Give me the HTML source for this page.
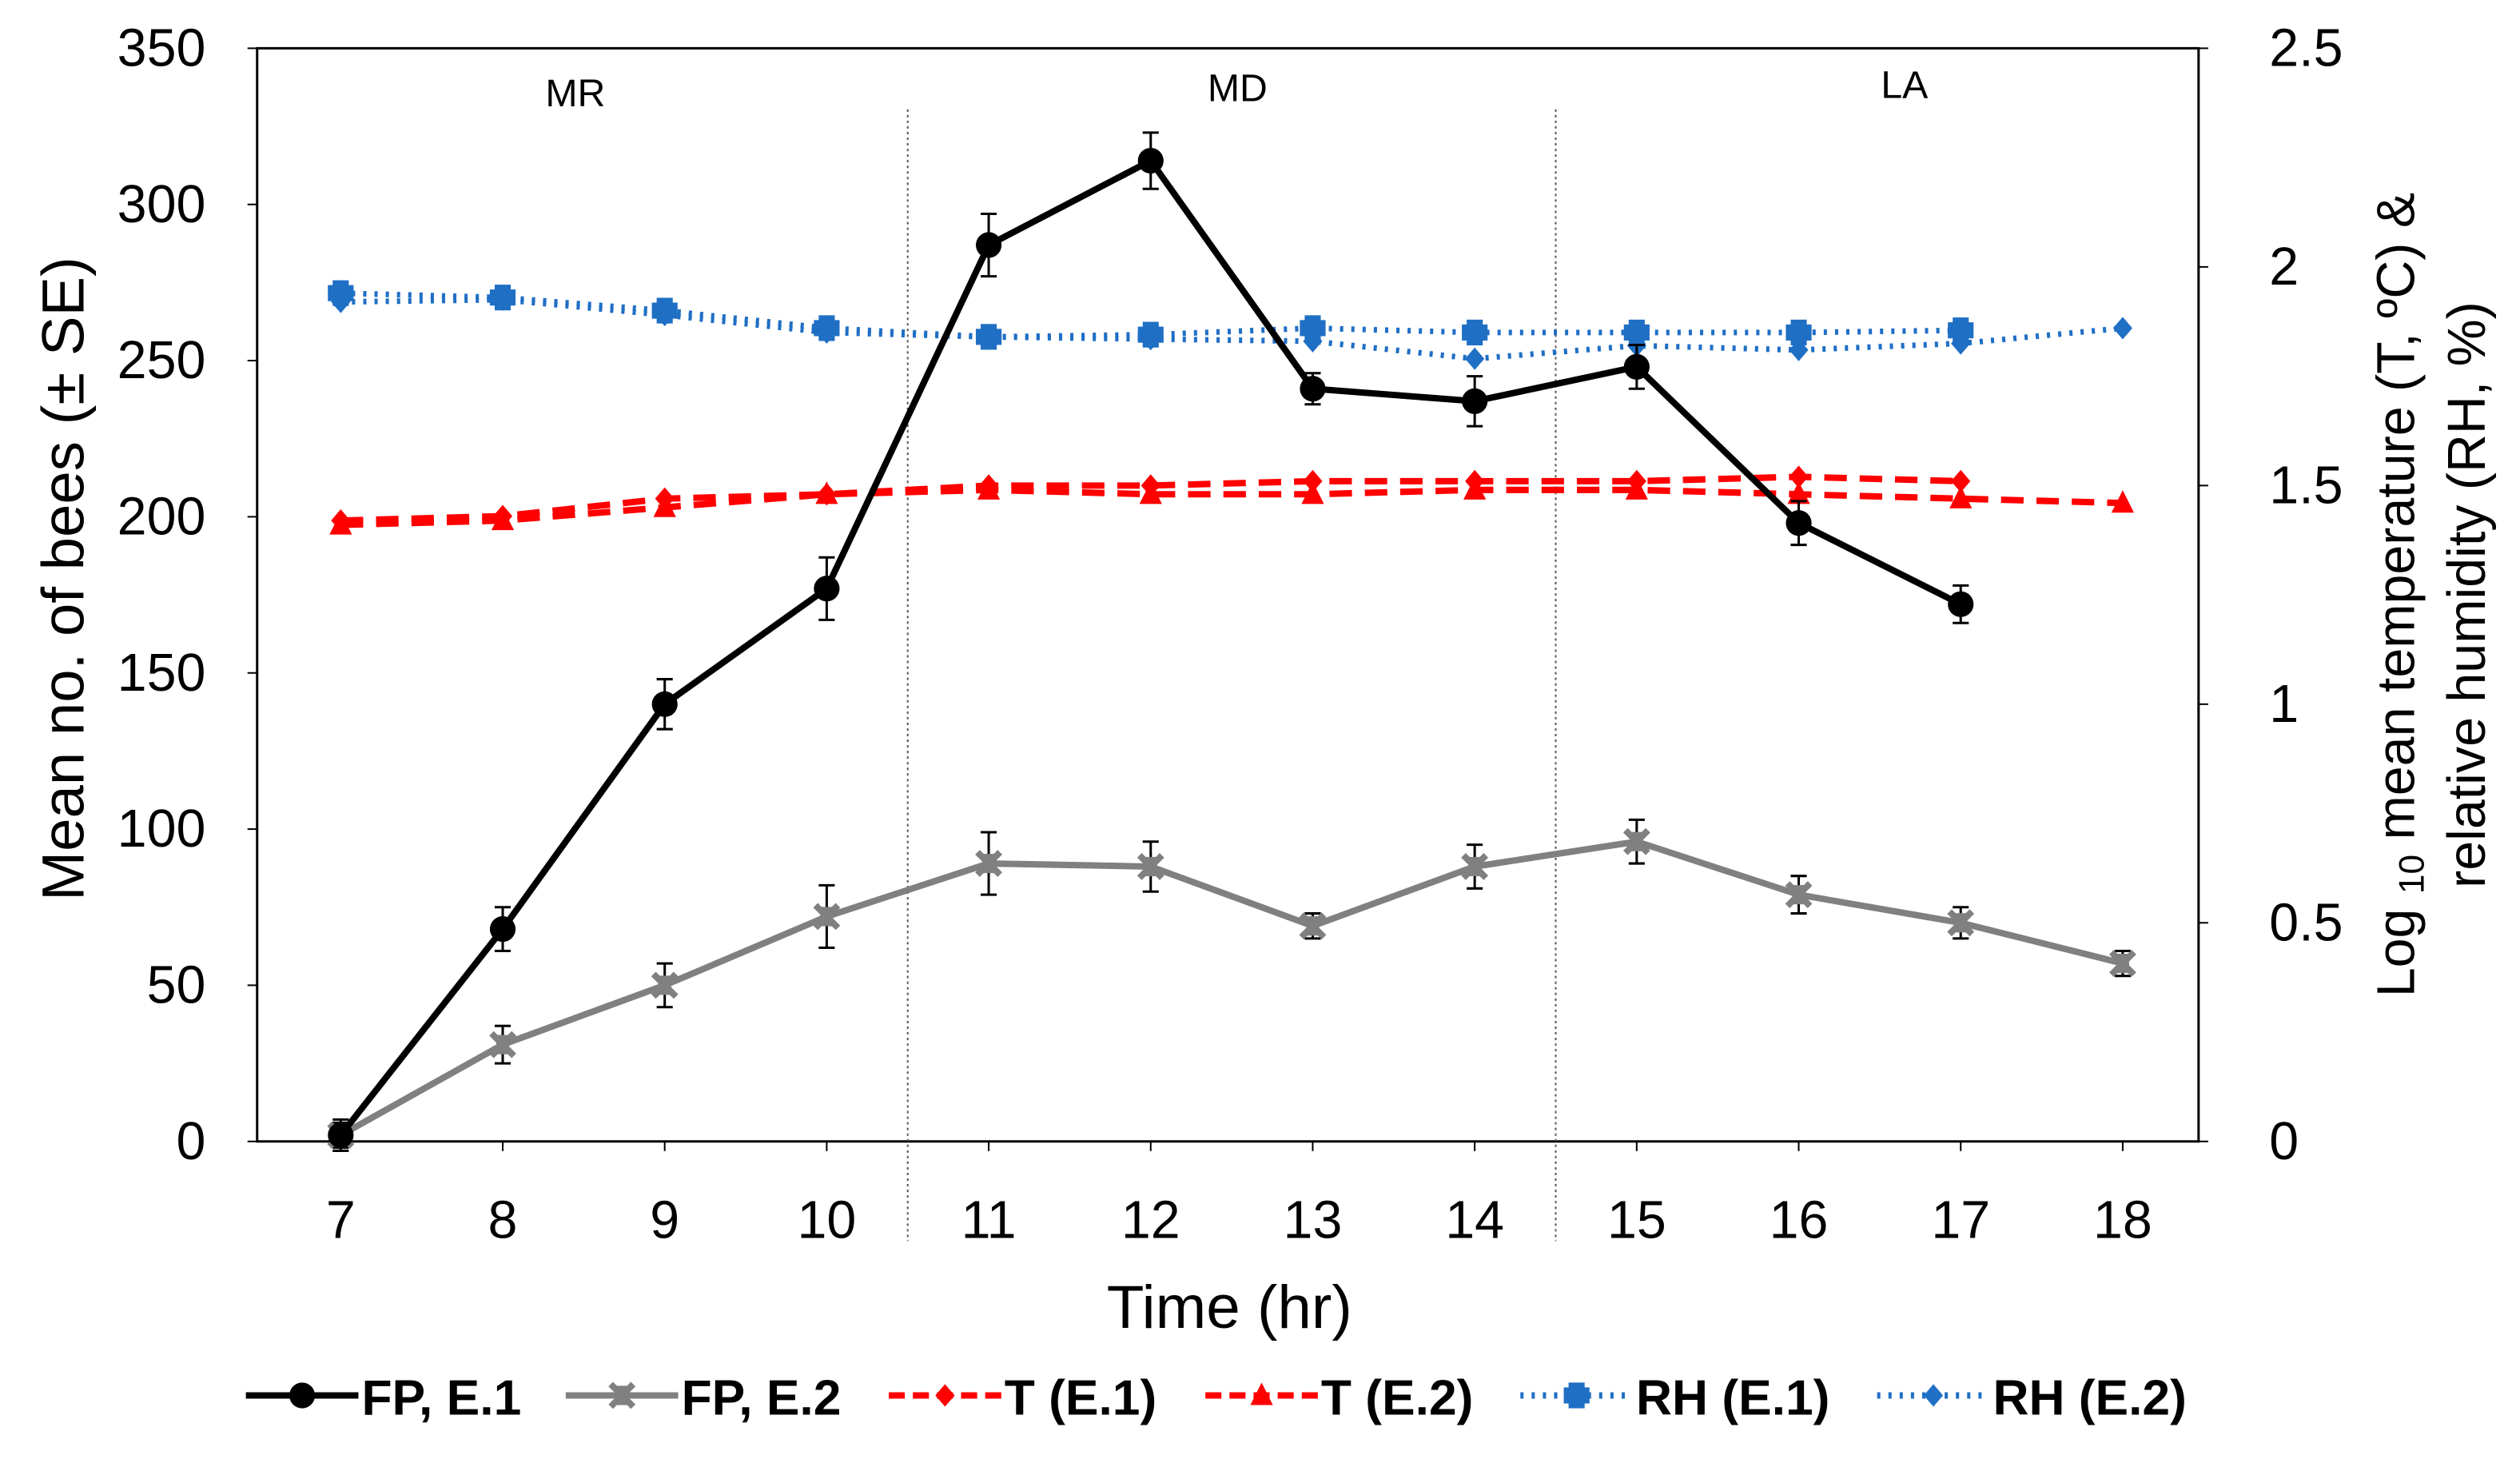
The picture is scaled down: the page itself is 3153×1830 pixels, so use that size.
<!DOCTYPE html>
<html><head><meta charset="utf-8"><style>
html,body{margin:0;padding:0;background:#fff}
svg{display:block}
text{font-family:"Liberation Sans",sans-serif}
</style></head><body>
<svg id="chart" width="3153" height="1830" viewBox="0 0 1568 910" xmlns="http://www.w3.org/2000/svg">
<g id="g"></g>
</svg>
<script>
const hours=[7,8,9,10,11,12,13,14,15,16,17,18];
const fpE1=[2,68,140,177,287,314,241,237,248,198,172];
const fpE1Err=[5,7,8,10,10,9,5,8,7,7,6];
const fpE2=[2,31,50,72,89,88,69,88,96,79,70,57];
const fpE2Err=[4,6,7,10,10,8,4,7,7,6,5,4];
const tE1=[1.42,1.43,1.47,1.48,1.50,1.50,1.51,1.51,1.51,1.52,1.51];
const tE2=[1.41,1.42,1.45,1.48,1.49,1.48,1.48,1.49,1.49,1.48,1.47,1.46];
const rhE1=[1.94,1.93,1.90,1.86,1.84,1.845,1.86,1.85,1.85,1.85,1.855];
const rhE2=[1.92,1.925,1.89,1.85,1.84,1.835,1.83,1.79,1.82,1.81,1.825,1.86];
const leftTicks=[0,50,100,150,200,250,300,350];
const rightTicks=[0,0.5,1,1.5,2,2.5];
const rightTickLabels=["0","0.5","1","1.5","2","2.5"];
const periods=["MR","MD","LA"];
const periodBounds=[10.5,14.5];

const NS="http://www.w3.org/2000/svg";
const g=document.getElementById('g');
const L=160,R=1368,T=30,B=710;
const x=h=>212+(h-7)*100.8;
const yl=v=>B-v*(B-T)/350;
const yr=v=>B-v*(B-T)/2.5;
function el(tag,a,parent){const e=document.createElementNS(NS,tag);for(const k in a)e.setAttribute(k,a[k]);(parent||g).appendChild(e);return e;}

const frame=el('rect',{x:L,y:T,width:R-L,height:B-T,fill:'none',stroke:'#000','stroke-width':1.5});



periodBounds.forEach(b=>{const l=el('line',{x1:x(b),x2:x(b),y1:68,y2:772,stroke:'#555','stroke-width':1,'stroke-dasharray':'1.5,2'});

});
const plx=[358,770,1185],ply=[66,63,61];
periods.forEach((p,i)=>{const t=el('text',{x:plx[i],y:ply[i],'font-size':24,'text-anchor':'middle'});t.textContent=p;

});

leftTicks.forEach(v=>{const t=el('text',{x:128,y:yl(v)+11,'font-size':33,'text-anchor':'end'});t.textContent=v;


el('line',{x1:L-6,x2:L,y1:yl(v),y2:yl(v),stroke:'#000'});});
rightTicks.forEach((v,i)=>{const t=el('text',{x:1412,y:yr(v)+11,'font-size':33});t.textContent=rightTickLabels[i];


el('line',{x1:R,x2:R+6,y1:yr(v),y2:yr(v),stroke:'#000'});});
hours.forEach(h=>{const t=el('text',{x:x(h),y:770,'font-size':33,'text-anchor':'middle'});t.textContent=h;


el('line',{x1:x(h),x2:x(h),y1:B,y2:B+6,stroke:'#000'});});

let t1=el('text',{x:765,y:826,'font-size':38,'text-anchor':'middle'});t1.textContent='Time (hr)';


let t2=el('text',{x:0,y:0,'font-size':37,'text-anchor':'middle',transform:'translate(52,360) rotate(-90)'});t2.textContent='Mean no. of bees (± SE)';


let t3=el('text',{x:0,y:0,'font-size':33,'text-anchor':'middle',transform:'translate(1502,370) rotate(-90)'});
t3.innerHTML='Log <tspan font-size="22" dy="6">10</tspan><tspan dy="-6"> mean temperature (T, ºC) &amp;</tspan>';


let t4=el('text',{x:0,y:0,'font-size':33,'text-anchor':'middle',transform:'translate(1546,370) rotate(-90)'});t4.textContent='relative humidity (RH, %)';



function marker(type,cx,cy,color,parent){
 if(type==='circle') return el('circle',{cx,cy,r:8,fill:color},parent);
 if(type==='x'){const p=el('g',{},parent);el('path',{d:`M${cx-7} ${cy-7}L${cx+7} ${cy+7}M${cx+7} ${cy-7}L${cx-7} ${cy+7}`,stroke:color,'stroke-width':4},p);el('rect',{x:cx-4,y:cy-6,width:8,height:12,fill:color},p);return p;}
 if(type==='diamond') return el('path',{d:`M${cx} ${cy-7}L${cx+6} ${cy}L${cx} ${cy+7}L${cx-6} ${cy}Z`,fill:color},parent);
 if(type==='tri') return el('path',{d:`M${cx} ${cy-8}L${cx+7} ${cy+6}L${cx-7} ${cy+6}Z`,fill:color},parent);
 if(type==='star'){const p=el('g',{},parent);el('rect',{x:cx-8,y:cy-5,width:16,height:10,fill:color},p);el('rect',{x:cx-5,y:cy-8,width:10,height:16,fill:color},p);return p;}
}
function series(name,vals,yf,color,dash,width,mk,err){
 const s=el('g',{});
 
 
 if(err) vals.forEach((v,i)=>{const X=x(hours[i]),a=yf(v-err[i]),b=yf(v+err[i]);
  el('path',{d:`M${X} ${a}V${b}M${X-5} ${a}H${X+5}M${X-5} ${b}H${X+5}`,stroke:'#000','stroke-width':1.5,fill:'none'},s);});
 el('polyline',{points:vals.map((v,i)=>x(hours[i])+','+yf(v)).join(' '),fill:'none',stroke:color,'stroke-width':width,'stroke-dasharray':dash||'none'},s);
 vals.forEach((v,i)=>{const m=marker(mk,x(hours[i]),yf(v),color,s);
  
  });
}
series('series-rh-e2',rhE2,yr,'#1f6fc5','2,5',3.5,'diamond');
series('series-rh-e1',rhE1,yr,'#1f6fc5','2,5',3.5,'star');
series('series-t-e2',tE2,yr,'#ff0000','14,8',4,'tri');
series('series-t-e1',tE1,yr,'#ff0000','14,8',4,'diamond');
series('series-fp-e2',fpE2,yl,'#808080',null,4,'x',fpE2Err);
series('series-fp-e1',fpE1,yl,'#000',null,4,'circle',fpE1Err);

const leg=[['FP, E.1','#000',null,'circle',153],['FP, E.2','#808080',null,'x',352],['T (E.1)','#ff0000','10,5','diamond',553],['T (E.2)','#ff0000','10,5','tri',750],['RH (E.1)','#1f6fc5','2,5','star',946],['RH (E.2)','#1f6fc5','2,5','diamond',1168]];
leg.forEach(([lab,c,d,m,lx])=>{const e=el('g',{});
 
 
 el('line',{x1:lx,x2:lx+70,y1:868,y2:868,stroke:c,'stroke-width':4,'stroke-dasharray':d||'none'},e);
 marker(m,lx+35,868,c,e);
 const t=el('text',{x:lx+72,y:880,'font-size':31,'font-weight':'bold'},e);t.textContent=lab;});
</script>
</body></html>
